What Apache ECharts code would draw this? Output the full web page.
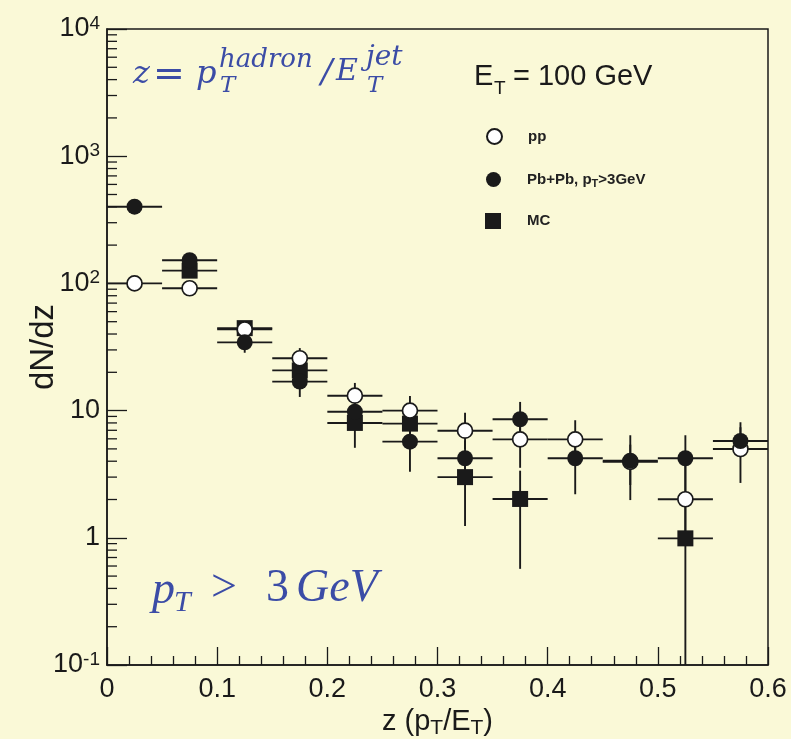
<!DOCTYPE html>
<html><head><meta charset="utf-8">
<script src="https://cdn.jsdelivr.net/npm/echarts@6.0.0/dist/echarts.min.js"></script>
<style>html,body{margin:0;padding:0;background:#faf9d7;}#c{width:791px;height:739px;}</style>
</head><body><div id="c"></div>
<script>
// ---- data ----
const zBins   = [0.025, 0.075, 0.125, 0.175, 0.225, 0.275, 0.325, 0.375, 0.425, 0.475, 0.525, 0.575];
const halfBin = 0.025;

const ppVal   = [100, 91.6, 43.5, 25.8, 13.1, 10.0, 6.95, 5.94, 5.94, 3.95, 2.01, 4.99];
const ppLow   = [93, 86, 40, 21, 10, 7.5, 5.0, 3.55, 4.2, 2.6, 1.0, 2.7];
const ppHigh  = [107, 97, 47, 31, 16.5, 13.0, 9.6, 8.3, 8.4, 5.4, 4.2, 7.4];

const pbVal   = [401, 152, 34.4, 16.9, 9.8, 5.7, 4.22, 8.55, 4.22, 4.04, 4.22, 5.77];
const pbLow   = [375, 142, 28.5, 12.8, 7.5, 3.3, 3.0, 6.2, 2.2, 1.98, 2.2, 4.3];
const pbHigh  = [428, 163, 38, 21, 12.5, 8.0, 5.8, 11.7, 6.5, 6.4, 6.4, 8.1];

const mcZ     = [0.075, 0.125, 0.175, 0.225, 0.275, 0.325, 0.375, 0.525];
const mcVal   = [126, 44.5, 20.7, 8.0, 7.9, 3.0, 2.02, 0.99];
const mcLow   = [116, 40, 17, 5.1, 6.0, 1.24, 0.57, 0.1];
const mcHigh  = [137, 49, 25, 11, 10.5, 4.6, 3.37, 2.0];

const xTicks  = [0, 0.1, 0.2, 0.3, 0.4, 0.5, 0.6];
const yDecades = [-1, 0, 1, 2, 3];

// ---- helpers ----
const yMinor = [];
yDecades.forEach(e => { for (let k = 2; k < 10; k++) yMinor.push(k * Math.pow(10, e)); });

const INK = '#1a1a1a';
const BLUE = '#3b4ca6';
const SERIF = '"DejaVu Serif"';

function errRender(params, api) {
  const x = api.value(0), y = api.value(1), lo = api.value(2), hi = api.value(3);
  const l = api.coord([x - halfBin, y]);
  const r = api.coord([x + halfBin, y]);
  const b = api.coord([x, lo]);
  const t = api.coord([x, hi]);
  const style = { stroke: INK, lineWidth: 1.9 };
  return { type: 'group', children: [
    { type: 'line', shape: { x1: l[0], y1: l[1], x2: r[0], y2: r[1] }, style },
    { type: 'line', shape: { x1: b[0], y1: b[1], x2: t[0], y2: t[1] }, style }
  ]};
}
function minorRender(params, api) {
  const p = api.coord([0, api.value(1)]);
  return { type: 'line', shape: { x1: p[0], y1: p[1], x2: p[0] + 10, y2: p[1] },
           style: { stroke: INK, lineWidth: 1.3 } };
}
function errSeries(name, xs, v, lo, hi) {
  return { type: 'custom', name: name + '_err', renderItem: errRender, clip: true, silent: true, z: 2,
           encode: { x: 0, y: 1 },
           data: xs.map((x, i) => [x, v[i], lo[i], hi[i]]) };
}

const chart = echarts.init(document.getElementById('c'), null, { renderer: 'canvas' });

function legendText(pad) {
  return { fontFamily: 'Liberation Sans', fontSize: 15, fontWeight: 'bold', color: '#222', padding: [0, 0, 0, pad],
    rich: { s: { fontFamily: 'Liberation Sans', fontSize: 11, fontWeight: 'bold', color: '#222', verticalAlign: 'bottom', padding: [9, 0, 0, 0] } } };
}

const opt = {
  backgroundColor: '#faf9d7',
  animation: false,
  grid: { left: 107, right: 23, top: 29, bottom: 74, show: true, borderColor: INK, borderWidth: 1.5,
          backgroundColor: 'transparent', containLabel: false, outerBoundsMode: 'none' },
  xAxis: {
    type: 'value', min: 0, max: 0.6, interval: 0.1,
    axisLine: { lineStyle: { color: INK, width: 1.5 } },
    axisTick: { inside: true, length: 18, lineStyle: { color: INK, width: 1.3 } },
    minorTick: { show: true, splitNumber: 5, length: 9, lineStyle: { color: INK, width: 1.3 } },
    splitLine: { show: false },
    axisLabel: { fontFamily: 'Liberation Sans', fontSize: 27, color: INK, margin: 11,
      formatter: v => { const m = xTicks.find(t => Math.abs(t - v) < 1e-9); return m === undefined ? '' : String(m); } },
    name: 'z (p{s|T}/E{s|T})', nameLocation: 'middle', nameGap: 57, nameMoveOverlap: false,
    nameTextStyle: { fontFamily: 'Liberation Sans', fontSize: 29, color: INK, lineHeight: 34, verticalAlign: 'middle',
      rich: { s: { fontFamily: 'Liberation Sans', fontSize: 21, color: INK, verticalAlign: 'bottom', lineHeight: 21, padding: [10, 0, 0, 0] } } }
  },
  yAxis: {
    type: 'log', logBase: 10, min: 0.1, max: 10000,
    axisLine: { lineStyle: { color: INK, width: 1.5 } },
    axisTick: { inside: true, length: 20, lineStyle: { color: INK, width: 1.3 } },
    splitLine: { show: false },
    axisLabel: { margin: 7,
      formatter: v => {
        const e = Math.round(Math.log10(v));
        if (e === 0) return '{b|1}';
        if (e === 1) return '{b|10}';
        return '{b|10}{s|' + e + '}';
      },
      rich: {
        b: { fontFamily: 'Liberation Sans', fontSize: 27, color: INK, lineHeight: 30 },
        s: { fontFamily: 'Liberation Sans', fontSize: 19, color: INK, verticalAlign: 'top', lineHeight: 19 }
      } },
    name: 'dN/dz', nameLocation: 'middle', nameGap: 47, nameMoveOverlap: false,
    nameTextStyle: { fontFamily: 'Liberation Sans', fontSize: 33, color: INK }
  },
  legend: [
    { data: ['pp'], left: 481, top: 123, itemWidth: 15, itemHeight: 15, textStyle: legendText(21), selectedMode: false },
    { data: ['PbPb'], left: 481, top: 167, itemWidth: 15, itemHeight: 15, textStyle: legendText(21), selectedMode: false,
      formatter: () => 'Pb+Pb, p{s|T}>3GeV' },
    { data: ['MC'], left: 480, top: 208, itemWidth: 16, itemHeight: 16, textStyle: legendText(21), selectedMode: false }
  ],
  series: [
    { type: 'custom', name: 'minor', renderItem: minorRender, silent: true, clip: false, z: 3,
      encode: { x: 0, y: 1 }, data: yMinor.map(v => [0, v]) },
    errSeries('MC', mcZ, mcVal, mcLow, mcHigh),
    errSeries('pp', zBins, ppVal, ppLow, ppHigh),
    errSeries('PbPb', zBins, pbVal, pbLow, pbHigh),
    { type: 'scatter', name: 'MC', symbol: 'rect', symbolSize: 16, z: 4,
      itemStyle: { color: INK, borderColor: INK, borderWidth: 0, opacity: 1 },
      data: mcZ.map((x, i) => [x, mcVal[i]]) },
    { type: 'scatter', name: 'pp', symbol: 'circle', symbolSize: 15, z: 5,
      itemStyle: { color: '#ffffff', borderColor: INK, borderWidth: 1.7, opacity: 1 },
      data: zBins.map((x, i) => [x, ppVal[i]]) },
    { type: 'scatter', name: 'PbPb', symbol: 'circle', symbolSize: 16, z: 6,
      itemStyle: { color: INK, borderColor: INK, borderWidth: 0, opacity: 1 },
      data: zBins.map((x, i) => [x, pbVal[i]]) }
  ],
  graphic: [
    // formula z = p_T^hadron / E_T^jet
    { type: 'text', left: 133, top: 59, style: { text: 'z', font: 'italic 32px ' + SERIF, fill: BLUE } },
    { type: 'text', left: 153, top: 57, style: { text: '=', font: '38px ' + SERIF, fill: BLUE } },
    { type: 'text', left: 196, top: 59, style: { text: 'p', font: 'italic 32px ' + SERIF, fill: BLUE } },
    { type: 'text', left: 219, top: 47, style: { text: 'hadron', font: 'italic 26px ' + SERIF, fill: BLUE } },
    { type: 'text', left: 220, top: 75, style: { text: 'T', font: 'italic 23px ' + SERIF, fill: BLUE } },
    { type: 'text', left: 321, top: 57, style: { text: '/', font: 'italic 34px ' + SERIF, fill: BLUE } },
    { type: 'text', left: 336, top: 57, style: { text: 'E', font: 'italic 30px ' + SERIF, fill: BLUE } },
    { type: 'text', left: 366, top: 44, style: { text: 'jet', font: 'italic 28px ' + SERIF, fill: BLUE } },
    { type: 'text', left: 367, top: 75, style: { text: 'T', font: 'italic 23px ' + SERIF, fill: BLUE } },
    // E_T = 100 GeV
    { type: 'text', left: 474, top: 62, style: { text: 'E', font: '29px "Liberation Sans"', fill: INK } },
    { type: 'text', left: 494, top: 79, style: { text: 'T', font: '19px "Liberation Sans"', fill: INK } },
    { type: 'text', left: 513, top: 62, style: { text: '= 100 GeV', font: '29px "Liberation Sans"', fill: INK } },
    // p_T > 3 GeV
    { type: 'text', left: 152, top: 568, style: { text: 'p', font: 'italic 46px "Liberation Serif"', fill: BLUE } },
    { type: 'text', left: 174, top: 588, style: { text: 'T', font: 'italic 30px "Liberation Serif"', fill: BLUE } },
    { type: 'text', left: 211, top: 566, style: { text: '>', font: '46px "Liberation Serif"', fill: BLUE } },
    { type: 'text', left: 266, top: 566, style: { text: '3', font: '46px "Liberation Serif"', fill: BLUE } },
    { type: 'text', left: 296, top: 566, style: { text: 'GeV', font: 'italic 46px "Liberation Serif"', fill: BLUE } }
  ]
};
chart.setOption(opt);
</script>
</body></html>
